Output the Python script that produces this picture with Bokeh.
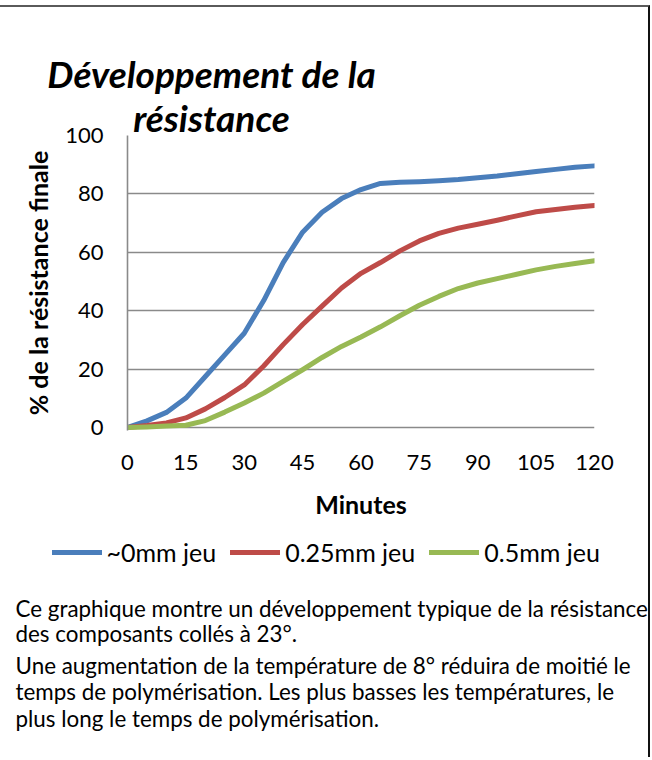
from bokeh.plotting import figure
from bokeh.layouts import column
from bokeh.models import Range1d, FixedTicker, Legend, LegendItem
from bokeh.core.properties import value
from bokeh.embed import file_html
from bokeh.resources import INLINE

# ---------------- data ----------------
minutes = [0, 5, 10, 15, 20, 25, 30, 35, 40, 45, 50, 55, 60,
           65, 70, 75, 80, 85, 90, 95, 100, 105, 110, 115, 120]
gap_0mm = [0, 2.3, 5.2, 10.1, 17.5, 24.9, 32.3, 43.5, 56.5, 66.9, 73.7, 78.4, 81.5,
           83.6, 84.0, 84.2, 84.5, 84.9, 85.5, 86.1, 86.9, 87.7, 88.4, 89.1, 89.6]
gap_025mm = [0, 0.7, 1.6, 3.3, 6.4, 10.3, 14.6, 21.1, 28.4, 35.3, 41.6, 47.8, 52.8,
             56.5, 60.5, 63.9, 66.5, 68.3, 69.6, 71.0, 72.5, 73.9, 74.7, 75.4, 76.0]
gap_05mm = [0, 0.2, 0.5, 0.8, 2.4, 5.3, 8.4, 11.8, 15.8, 19.8, 24.0, 27.8, 31.0,
            34.5, 38.3, 41.9, 44.9, 47.6, 49.5, 51.0, 52.5, 54.0, 55.2, 56.2, 57.1]
series_names = ["~0mm jeu", "0.25mm jeu", "0.5mm jeu"]
series_colors = ["#4A7EBB", "#BE4B48", "#98B954"]
x_ticks = [0, 15, 30, 45, 60, 75, 90, 105, 120]
y_ticks = [0, 20, 40, 60, 80, 100]
x_label = "Minutes"
y_label = "% de la résistance finale"
title_lines = ["Développement de la", "résistance"]
note_lines = [
    "Ce graphique montre un développement typique de la résistance",
    "des composants collés à 23°.",
    "Une augmentation de la température de 8° réduira de moitié le",
    "temps de polymérisation.  Les plus basses les températures, le",
    "plus long le temps de polymérisation.",
]

# ---------------- geometry (page pixels) ----------------
W = 648
TOP = 7                      # page y where content starts (after margin + border)
TH, MH, BH = 135, 415, 222   # heights of title / chart / notes blocks
OVERLAP = 22                 # chart block slides up under the title block
MAIN_TOP = TOP + TH - OVERLAP  # 120
BOT_TOP = MAIN_TOP + MH        # 535
FRAME_L, FRAME_R, FRAME_T, ZERO_Y = 127, 594, 135, 427
PX_PER_Y = (ZERO_Y - FRAME_T) / 100.0
Y_MIN = -1.0
FRAME_B = ZERO_Y - Y_MIN * PX_PER_Y
FONT = "Lato"


def blank(h):
    f = figure(width=W, height=h, x_range=Range1d(0, W), y_range=Range1d(h, 0),
               output_backend="svg", toolbar_location=None, title=None,
               x_axis_type=None, y_axis_type=None, min_border=0)
    f.frame_align = False
    f.grid.visible = False
    f.outline_line_color = None
    return f


# ---------------- title block ----------------
pt = blank(TH)
pt.text(x=[211, 211], y=[73 - TOP, 117 - TOP], text=title_lines,
        text_font=value(FONT), text_font_size="37px", text_font_style="bold italic",
        text_align="center", text_baseline="alphabetic", text_color="black")

# ---------------- chart ----------------
p = figure(width=W, height=MH, x_range=Range1d(0, 120), y_range=Range1d(Y_MIN, 100),
           output_backend="svg", toolbar_location=None, title=None,
           min_border_left=FRAME_L, min_border_right=W - FRAME_R,
           min_border_top=FRAME_T - MAIN_TOP,
           min_border_bottom=int(round(BOT_TOP - FRAME_B)))
p.frame_align = False
p.styles = {"margin-top": "-%dpx" % OVERLAP}
p.background_fill_alpha = 0
p.border_fill_alpha = 0
p.outline_line_color = None
p.xgrid.grid_line_color = None
p.ygrid.ticker = FixedTicker(ticks=y_ticks)
p.ygrid.grid_line_color = "#8a8a8a"
p.ygrid.grid_line_width = 1.6

p.xaxis.ticker = FixedTicker(ticks=x_ticks)
p.yaxis.ticker = FixedTicker(ticks=y_ticks)
for ax in (p.xaxis[0], p.yaxis[0]):
    ax.major_tick_line_color = None
    ax.minor_tick_line_color = None
    ax.major_tick_in = 0
    ax.major_tick_out = 0
    ax.minor_tick_out = 0
    ax.major_label_text_font = FONT
    ax.major_label_text_font_size = "22px"
    ax.major_label_text_color = "black"
    ax.axis_label_text_font = FONT
    ax.axis_label_text_font_size = "25px"
    ax.axis_label_text_font_style = "bold"
    ax.axis_label_text_color = "black"
p.xaxis.axis_line_color = None
p.yaxis.axis_line_color = "#8a8a8a"
p.yaxis.axis_line_width = 1.6
p.xaxis.axis_label = x_label
p.yaxis.axis_label = y_label
p.xaxis.major_label_standoff = 24
p.xaxis.axis_label_standoff = 16
p.yaxis.major_label_standoff = 24
p.yaxis.axis_label_standoff = 9
p.yaxis.major_label_orientation = "horizontal"

for ys, col in zip([gap_0mm, gap_025mm, gap_05mm], series_colors):
    p.line(minutes, ys, line_color=col, line_width=5, line_cap="round", line_join="round")

# ---------------- legend + notes block ----------------
pb = blank(BH)
keys = []
for col in series_colors:
    keys.append(pb.line(x=[float("nan")], y=[float("nan")], line_color=col,
                        line_width=5, line_cap="round"))
legend = Legend(items=[LegendItem(label=n, renderers=[r]) for n, r in zip(series_names, keys)],
                orientation="horizontal", location=(51.5, BH - 24 - (555 - BOT_TOP - 12)),
                padding=0, margin=0, spacing=14, label_standoff=5,
                glyph_width=50, glyph_height=24, label_height=24,
                border_line_color=None, background_fill_alpha=0,
                label_text_font=FONT, label_text_font_size="25px", label_text_color="black")
pb.add_layout(legend, "center")

note_baselines = [608, 633, 665, 691, 718]
pb.text(x=[15] * len(note_lines), y=[b - BOT_TOP for b in note_baselines], text=note_lines,
        text_font=value(FONT), text_font_size="22.4px", text_align="left",
        text_baseline="alphabetic", text_color="black")

layout = column(pt, p, pb, spacing=0)
layout.styles = {"margin-top": "5px", "border-top": "2px solid #5a5a5a",
                 "border-right": "2px solid #111111"}

open("out.html", "w").write(file_html(layout, INLINE))
